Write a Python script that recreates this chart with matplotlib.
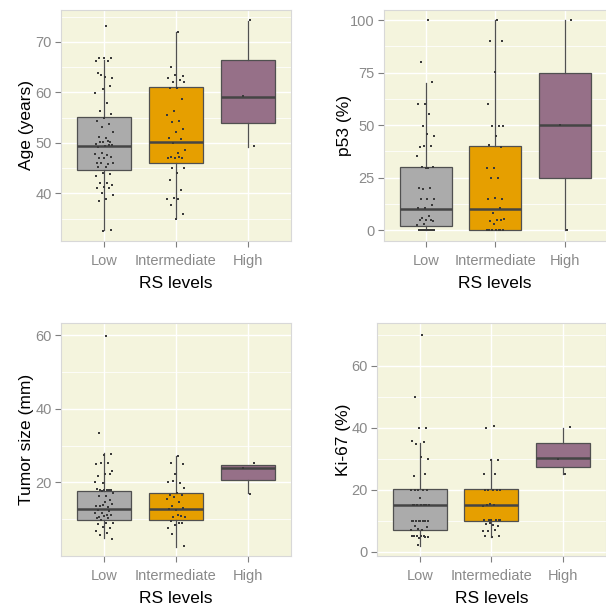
import matplotlib
matplotlib.use("Agg")
import matplotlib.pyplot as plt
import numpy as np

plt.rcParams['font.family'] = ['Liberation Sans', 'DejaVu Sans']

groups = ["Low", "Intermediate", "High"]
xlabel_text = "RS levels"

# ---- Panel 1: Age ----
age_low = [73.1, 66.9, 66.9, 66.9, 66.2, 66.2, 63.4, 62.9, 63.1, 63.9, 61.2, 60.6, 59.9, 57.9,
           56.4, 55.8, 54.9, 54.3, 53.7, 53.1, 52.1, 51.0, 51.2, 50.2, 50.1, 49.8, 50.3, 50.2,
           49.5, 49.3, 49.1, 49.6, 48.1, 47.8, 47.6, 47.0, 47.3, 47.0, 46.0, 45.8, 46.1, 46.0,
           45.2, 45.2, 43.9, 44.0, 43.5, 42.0, 42.1, 41.7, 41.3, 41.0, 41.0, 40.0, 39.7, 39.0,
           38.6, 32.8, 32.6]
age_int = [71.9, 65.1, 63.2, 63.4, 62.8, 62.4, 62.1, 62.1, 60.9, 60.9, 58.6, 56.4, 55.5, 54.3,
           54.1, 52.8, 52.1, 51.0, 50.7, 49.9, 48.7, 48.1, 47.3, 47.0, 47.0, 47.0, 47.3, 45.1,
           45.1, 44.0, 42.7, 40.6, 39.2, 39.0, 39.0, 37.7, 36.0, 35.0]
age_high = [74.3, 59.3, 49.4]
age_q1 = [44.6, 46.0, 53.9]
age_med = [49.4, 50.1, 59.1]
age_q3 = [55.2, 61.0, 66.5]
age_lo = [32.7, 35.1, 49.1]
age_hi = [66.5, 72.0, 74.2]

# ---- Panel 2: p53 ----
p53_low = [100, 80.2, 70.3, 60, 60, 55.2, 49.7, 44.8, 45.6, 39.7, 40.2, 40.2, 35.2, 29.7, 30.2,
           30.2, 29.7, 20, 20, 19.5, 14.8, 14.8, 14.8, 11.9, 10.3, 10.3, 6.8, 5.9, 4.4, 4.8,
           4.8, 4.8, 2.9, 2.5, 0, 0, 0, 0, 0, 0, 0, 0, 0]
p53_int = [100, 90, 90, 75.2, 60, 49.7, 49.7, 49.7, 44.8, 40.3, 39.7, 29.7, 29.7, 24.9, 24.9,
           14.6, 15.2, 14.6, 10.3, 8.3, 5.1, 4.8, 4.4, 4.8, 2.7, 0, 0, 0, 0, 0, 0, 0]
p53_high = [0, 50, 100]
p53_q1 = [2.0, 0.0, 25.0]
p53_med = [10.0, 10.0, 50.0]
p53_q3 = [30.0, 40.0, 75.0]
p53_lo = [0.0, 0.0, 0.0]
p53_hi = [70.0, 100.0, 100.0]

# ---- Panel 3: Tumor size ----
tumor_low = [59.9, 33.3, 27.8, 27.5, 25.1, 25.3, 25.3, 23.2, 22.3, 21.8, 22.3, 19.8, 20.1, 18.0,
             18.0, 17.8, 17.8, 18.3, 18.0, 17.6, 17.1, 16.4, 16.4, 15.3, 13.9, 13.6, 13.3, 13.7,
             14.2, 14.8, 12.5, 12.1, 11.8, 11.6, 11.2, 10.7, 11.2, 10.9, 10.3, 10.3, 9.8, 9.1,
             8.9, 8.6, 7.6, 8.0, 6.7, 6.2, 5.7, 4.6]
tumor_int = [27.1, 25.3, 25.0, 22.3, 20.1, 19.8, 20.3, 18.4, 17.1, 16.6, 16.5, 16.0, 15.5, 14.8,
             13.5, 13.0, 12.5, 12.7, 10.9, 10.7, 10.5, 11.2, 9.4, 8.9, 8.5, 7.6, 8.9, 6.0, 2.8]
tumor_high = [16.8, 23.8, 25.2]
tumor_q1 = [9.7, 9.7, 20.6]
tumor_med = [12.9, 12.9, 23.8]
tumor_q3 = [17.7, 17.0, 24.7]
tumor_lo = [4.8, 2.5, 17.0]
tumor_hi = [27.9, 27.2, 24.7]

# ---- Panel 4: Ki-67 ----
ki67_low = [70.0, 49.9, 39.9, 39.9, 35.6, 35.3, 34.8, 30.0, 30.5, 24.5, 25.2, 20, 20, 20, 20, 20,
            17.3, 15.1, 15.1, 15.1, 15.1, 15.1, 15.1, 15.1, 10.0, 10.0, 10.0, 10.0, 10.0, 10.0,
            10.0, 10.0, 7.3, 6.9, 7.0, 8.2, 7.9, 4.4, 5.2, 5.0, 5.0, 4.8, 5.2, 5.0, 4.7, 2.3]
ki67_int = [40.4, 39.9, 29.7, 29.7, 25.2, 25.2, 19.9, 19.9, 19.9, 19.9, 19.9, 15.4, 14.8, 15.2,
            15.0, 10.2, 10.2, 10.2, 10.2, 10.2, 10.2, 8.5, 8.9, 8.2, 9.3, 6.6, 6.9, 6.7, 5.2,
            4.7, 5.2]
ki67_high = [25.0, 30.0, 40.3]
ki67_q1 = [7.0, 9.9, 27.4]
ki67_med = [15.1, 15.1, 30.1]
ki67_q3 = [20.1, 20.1, 35.2]
ki67_lo = [1.8, 4.8, 25.1]
ki67_hi = [35.0, 29.9, 39.8]

panels = [
    dict(label="Age (years)", pts=[age_low, age_int, age_high],
         st=(age_q1, age_med, age_q3, age_lo, age_hi),
         ticks=[40, 50, 60, 70], minor=[35, 45, 55, 65, 75], ylim=(30.6, 76.3),
         rect=(61, 10, 291, 241), ylx=27),
    dict(label="p53 (%)", pts=[p53_low, p53_int, p53_high],
         st=(p53_q1, p53_med, p53_q3, p53_lo, p53_hi),
         ticks=[0, 25, 50, 75, 100], minor=[12.5, 37.5, 62.5, 87.5], ylim=(-5.2, 104.8),
         rect=(384, 10, 606.5, 241), ylx=345),
    dict(label="Tumor size (mm)", pts=[tumor_low, tumor_int, tumor_high],
         st=(tumor_q1, tumor_med, tumor_q3, tumor_lo, tumor_hi),
         ticks=[20, 40, 60], minor=[10, 30, 50], ylim=(0.0, 63.3),
         rect=(61, 323, 291, 556), ylx=27),
    dict(label="Ki-67 (%)", pts=[ki67_low, ki67_int, ki67_high],
         st=(ki67_q1, ki67_med, ki67_q3, ki67_lo, ki67_hi),
         ticks=[0, 20, 40, 60], minor=[10, 30, 50, 70], ylim=(-1.4, 73.8),
         rect=(376.7, 323, 606, 556), ylx=343),
]

fills = ["#ABABAB", "#E69F00", "#967088"]
bg = "#F4F4DD"
W, H = 606, 605
fig = plt.figure(figsize=(W / 100, H / 100), dpi=100)

for p in panels:
    x0, y0, x1, y1 = p["rect"]
    ax = fig.add_axes([x0 / W, 1 - y1 / H, (x1 - x0) / W, (y1 - y0) / H])
    ax.set_facecolor(bg)
    for s in ax.spines.values():
        s.set_color("#D8D8D8")
        s.set_linewidth(0.8)
    ax.set_xlim(0.4, 3.6)
    ax.set_ylim(*p["ylim"])
    ax.set_yticks(p["ticks"])
    ax.set_yticks(p["minor"], minor=True)
    ax.grid(True, which="major", color="white", linewidth=1.0, zorder=0)
    ax.grid(True, which="minor", axis="y", color="white", linewidth=0.55, zorder=0)
    ax.set_axisbelow(True)
    ax.tick_params(axis="both", which="major", length=4, width=0.8, color="#7F7F7F",
                   labelcolor="#8A8A8A", labelsize=10.5)
    ax.tick_params(axis="x", which="major", pad=5.5)
    ax.tick_params(axis="y", which="major", pad=2.5)
    ax.tick_params(axis="both", which="minor", length=0)

    q1, med, q3, lo, hi = p["st"]
    stats = [dict(q1=q1[i], med=med[i], q3=q3[i], whislo=lo[i], whishi=hi[i], fliers=[])
             for i in range(3)]
    bp = ax.bxp(stats, positions=[1, 2, 3], widths=0.75, showfliers=False, showcaps=False,
                patch_artist=True,
                boxprops=dict(edgecolor="#505050", linewidth=0.9),
                whiskerprops=dict(color="#505050", linewidth=0.9),
                medianprops=dict(color="#454545", linewidth=1.8))
    for patch, c in zip(bp["boxes"], fills):
        patch.set_facecolor(c)
        patch.set_zorder(2)
    for k in ("whiskers", "medians"):
        for a in bp[k]:
            a.set_zorder(2.5)
    ax.set_xticks([1, 2, 3])
    ax.set_xticklabels(groups)

    for gi, vals in enumerate(p["pts"]):
        n = len(vals)
        jit = 0.13 * (2 * ((np.arange(n) + 1) * 0.618034 % 1.0) - 1)
        ax.scatter(gi + 1 + jit, vals, s=3.2, color="#3A3A3A", zorder=3, linewidths=0,
                   marker="s")

    ax.set_ylabel(p["label"], fontsize=12.5, color="black", va="center")
    ax.set_xlabel(xlabel_text, fontsize=12.5, color="black", va="center")
    ax.yaxis.set_label_coords((p["ylx"] - x0) / (x1 - x0), 0.5)
    ax.xaxis.set_label_coords(0.5, -(42.5) / (y1 - y0))

fig.savefig("out.png", dpi=100, facecolor="white")
